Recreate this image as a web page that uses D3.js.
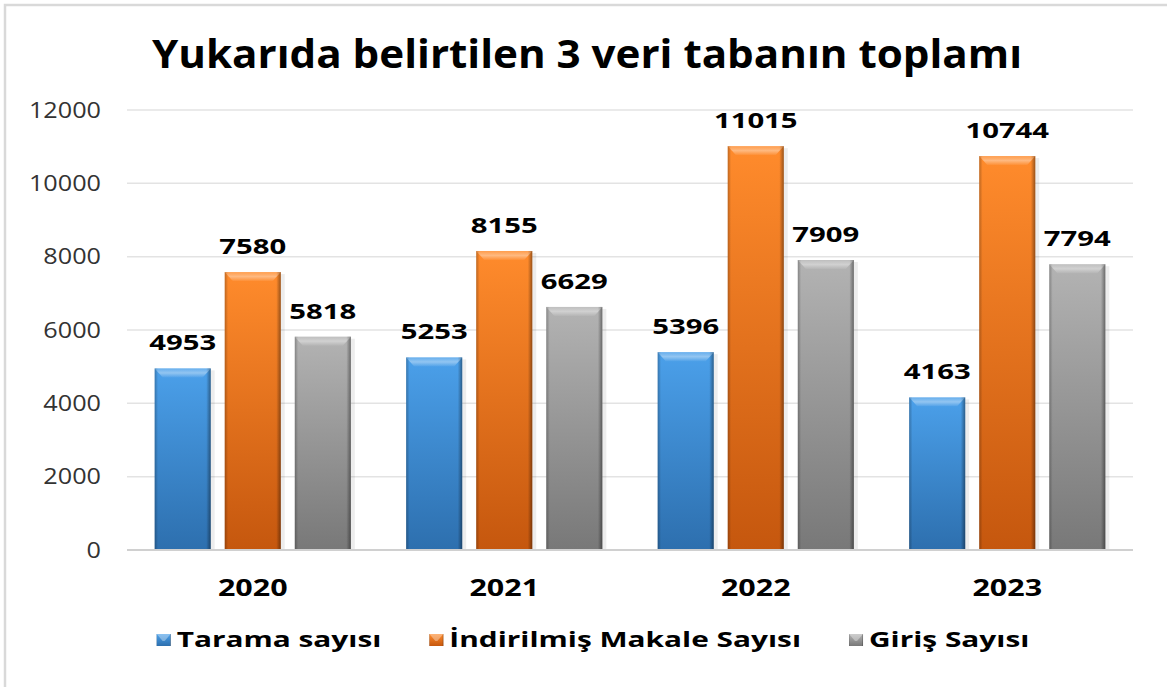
<!DOCTYPE html>
<html lang="tr">
<head>
<meta charset="utf-8">
<style>
  body { margin: 0; background: #fff; }
  svg { display: block; font-family: 'Open Sans', sans-serif; }
</style>
</head>
<body>
<div id="chart"></div>
<script src="https://cdn.jsdelivr.net/npm/d3@7"></script>
<script>
// data
var years = ['2020', '2021', '2022', '2023'];
var seriesNames = ['Tarama sayısı', 'İndirilmiş Makale Sayısı', 'Giriş Sayısı'];
var tarama = [4953, 5253, 5396, 4163];
var indirilen = [7580, 8155, 11015, 10744];
var giris = [5818, 6629, 7909, 7794];
var yTicks = [0, 2000, 4000, 6000, 8000, 10000, 12000];

var W = 1167, H = 687;
var plotL = 127, plotR = 1133, plotT = 110, plotB = 550;

var tops = ['#4ba0ea', '#ff8b2c', '#b3b3b3'];
var bots = ['#2d6fae', '#c5570e', '#787878'];

var svg = d3.select('#chart').append('svg')
    .attr('width', W).attr('height', H);

var defs = svg.append('defs');
seriesNames.forEach(function (s, i) {
  var g = defs.append('linearGradient').attr('id', 'fill' + i)
      .attr('x1', 0).attr('y1', 0).attr('x2', 0).attr('y2', 1);
  g.append('stop').attr('offset', '0%').attr('stop-color', tops[i]);
  g.append('stop').attr('offset', '100%').attr('stop-color', bots[i]);
});
var side = defs.append('linearGradient').attr('id', 'side')
    .attr('x1', 0).attr('y1', 0).attr('x2', 1).attr('y2', 0);
side.append('stop').attr('offset', '0%').attr('stop-color', '#000').attr('stop-opacity', 0.25);
side.append('stop').attr('offset', '6%').attr('stop-color', '#000').attr('stop-opacity', 0);
side.append('stop').attr('offset', '92%').attr('stop-color', '#000').attr('stop-opacity', 0);
side.append('stop').attr('offset', '100%').attr('stop-color', '#000').attr('stop-opacity', 0.4);
var bev = defs.append('linearGradient').attr('id', 'bevel')
    .attr('x1', 0).attr('y1', 0).attr('x2', 0).attr('y2', 1);
bev.append('stop').attr('offset', '0%').attr('stop-color', '#fff').attr('stop-opacity', 0.15);
bev.append('stop').attr('offset', '50%').attr('stop-color', '#fff').attr('stop-opacity', 0.4);
bev.append('stop').attr('offset', '100%').attr('stop-color', '#fff').attr('stop-opacity', 0.05);

// widen glyphs a bit, the source picture is stretched sideways
function stretch(sel, k) {
  sel.each(function () {
    var w = this.getComputedTextLength() * k;
    this.__w = w;
    d3.select(this).attr('textLength', w).attr('lengthAdjust', 'spacingAndGlyphs');
  });
}

// outer frame (only left/top visible in the crop)
svg.append('rect').attr('x', 5).attr('y', 5).attr('width', W + 20).attr('height', H + 20)
    .attr('fill', 'none').attr('stroke', '#d9d9d9').attr('stroke-width', 2.5);

svg.append('text')
    .attr('x', 587).attr('y', 68)
    .attr('text-anchor', 'middle')
    .attr('font-size', 40).attr('font-weight', 700).attr('fill', '#000')
    .attr('textLength', 870).attr('lengthAdjust', 'spacingAndGlyphs')
    .text('Yukarıda belirtilen 3 veri tabanın toplamı');

var y = d3.scaleLinear().domain([0, 12000]).range([plotB, plotT]);
var x0 = d3.scaleBand().domain(years).range([plotL, plotR])
    .paddingInner(0.22).paddingOuter(0.11);
var x1 = d3.scaleBand().domain(d3.range(3)).range([0, x0.bandwidth()])
    .paddingInner(0.2).paddingOuter(0);

// gridlines
svg.append('g').selectAll('line').data(yTicks.slice(1)).enter().append('line')
    .attr('x1', plotL).attr('x2', plotR)
    .attr('y1', function (d) { return y(d); }).attr('y2', function (d) { return y(d); })
    .attr('stroke', '#e3e3e3').attr('stroke-width', 1.5);

var yl = svg.append('g').selectAll('text').data(yTicks).enter().append('text')
    .attr('x', 101).attr('y', function (d) { return y(d) + 7.5; })
    .attr('text-anchor', 'end')
    .attr('font-size', 21).attr('fill', '#333')
    .text(function (d) { return d; });
stretch(yl, 1.2);

var series = [tarama, indirilen, giris];
var rows = [];
years.forEach(function (yr, j) {
  series.forEach(function (vals, i) {
    rows.push({ year: yr, s: i, v: vals[j] });
  });
});

var bars = svg.append('g').selectAll('g').data(rows).enter().append('g')
    .attr('transform', function (d) { return 'translate(' + (x0(d.year) + x1(d.s)) + ',0)'; });
var bw = x1.bandwidth();

// soft shadow on right
bars.append('rect')
    .attr('x', 2).attr('y', function (d) { return y(d.v) + 2; })
    .attr('width', bw + 2).attr('height', function (d) { return plotB - y(d.v) - 2; })
    .attr('fill', '#000').attr('opacity', 0.07);
bars.append('rect')
    .attr('y', function (d) { return y(d.v); })
    .attr('width', bw).attr('height', function (d) { return plotB - y(d.v); })
    .attr('fill', function (d) { return 'url(#fill' + d.s + ')'; });
bars.append('rect')
    .attr('y', function (d) { return y(d.v); })
    .attr('width', bw).attr('height', function (d) { return plotB - y(d.v); })
    .attr('fill', 'url(#side)');
bars.append('polygon')
    .attr('points', function (d) {
      var t = y(d.v);
      return [[0, t], [bw, t], [bw - 8, t + 9], [8, t + 9]].join(' ');
    })
    .attr('fill', 'url(#bevel)');

var vl = bars.append('text')
    .attr('x', bw / 2).attr('y', function (d) { return y(d.v) - 18; })
    .attr('text-anchor', 'middle')
    .attr('font-size', 22).attr('font-weight', 700).attr('fill', '#000')
    .text(function (d) { return d.v; });
stretch(vl, 1.33);

// axis baseline
svg.append('line').attr('x1', plotL).attr('x2', plotR)
    .attr('y1', plotB).attr('y2', plotB)
    .attr('stroke', '#d0d0d0').attr('stroke-width', 2);

var xl = svg.append('g').selectAll('text').data(years).enter().append('text')
    .attr('x', function (d) { return x0(d) + x0.bandwidth() / 2; })
    .attr('y', 596)
    .attr('text-anchor', 'middle')
    .attr('font-size', 24).attr('font-weight', 700).attr('fill', '#000')
    .text(function (d) { return d; });
stretch(xl, 1.27);

// legend
var lg = svg.append('g');
var items = lg.selectAll('g').data(seriesNames).enter().append('g');
items.append('rect').attr('y', 634).attr('width', 14).attr('height', 12)
    .attr('fill', function (d, i) { return 'url(#fill' + i + ')'; });
items.append('rect').attr('y', 634).attr('width', 14).attr('height', 12)
    .attr('fill', 'url(#side)');
items.append('polygon').attr('points', '0,634 14,634 8,641 6,641')
    .attr('fill', '#fff').attr('opacity', 0.35);
var lt = items.append('text').attr('x', 20).attr('y', 647)
    .attr('font-size', 21).attr('font-weight', 700).attr('fill', '#000')
    .text(function (d) { return d; });
stretch(lt, 1.42);
var pos = 0, starts = [];
lt.each(function () {
  starts.push(pos);
  pos += 20 + this.__w + 48;
});
var total = pos - 48;
var lx = 593 - total / 2;
items.attr('transform', function (d, i) { return 'translate(' + (lx + starts[i]) + ',0)'; });
</script>
</body>
</html>
